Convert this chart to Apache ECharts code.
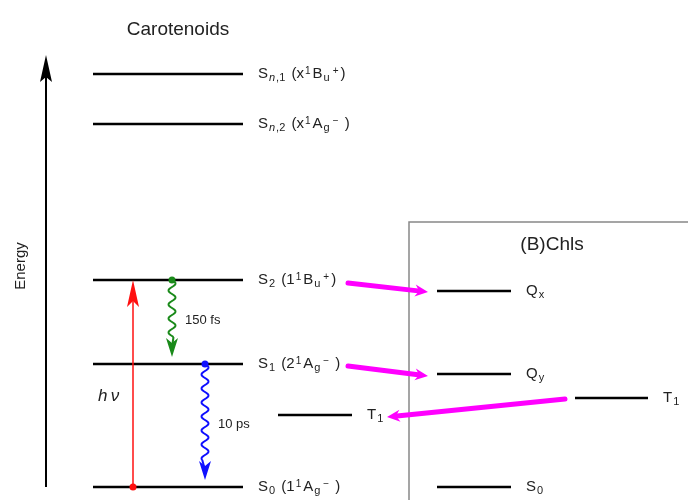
<!DOCTYPE html>
<html><head><meta charset="utf-8">
<script src="https://cdn.jsdelivr.net/npm/echarts@6/dist/echarts.min.js"></script>
<style>html,body{margin:0;padding:0;background:#fff}#c{width:688px;height:500px}</style>
</head><body><div id="c"></div>
<script>
// Energy-level data (x in layout units, energy in arbitrary units)
const levelNames = ['Sn1','Sn2','S2','S1','T1c','S0c','Qx','Qy','T1b','S0b'];
const levelX1    = [93, 93, 93, 93, 278, 93, 437, 437, 575, 437];
const levelX2    = [243,243,243,243,352,243,511, 511, 648, 511];
const levelE     = [426,376,220,136, 85, 13, 209, 126, 102, 13];
const levelLabels = [
  'S{subi|n}{sub|,1} (x{sup|1}B{sub|u}{sup|+})',
  'S{subi|n}{sub|,2} (x{sup|1}A{sub|g}{sup|\u2212} )',
  'S{sub|2} (1{sup|1}B{sub|u}{sup|+})',
  'S{sub|1} (2{sup|1}A{sub|g}{sup|\u2212} )',
  'T{sub|1}',
  'S{sub|0} (1{sup|1}A{sub|g}{sup|\u2212} )',
  'Q{sub|x}',
  'Q{sub|y}',
  'T{sub|1}',
  'S{sub|0}'
];
// Transitions
const excitation = {from: 'S0c', to: 'S2', x: 133, label: 'h\u2009\u03bd'};
const relax = [
  {from: 'S2', to: 'S1', x: 172, label: '150 fs', color: '#1a8a1a'},
  {from: 'S1', to: 'S0c', x: 205, label: '10 ps', color: '#1010ff'}
];
// Energy transfer (magenta)
const transferFromX = [348, 348, 565];
const transferFromE = [217, 134, 101];
const transferToX   = [428, 428, 387];
const transferToE   = [208, 124, 83];

const E = n => levelE[levelNames.indexOf(n)];
const chart = echarts.init(document.getElementById('c'));
const FONT = 'Liberation Sans, Arial, sans-serif';
const rich = {
  sub: {fontSize: 11, verticalAlign: 'bottom', lineHeight: 11, fontFamily: FONT, color:'#222', padding:[0,2,-2,1]},
  subi: {fontSize: 11, fontStyle:'italic', verticalAlign: 'bottom', lineHeight: 11, fontFamily: FONT, color:'#222', padding:[0,0,-2,1]},
  sup: {fontSize: 10, verticalAlign: 'top', lineHeight: 10, fontFamily: FONT, color:'#222', padding:[0,2,0,1]}
};

const levelData = levelNames.map((n,i)=>[levelX1[i], levelX2[i], levelE[i], i]);

chart.setOption({
  animation: false,
  grid: {left:0, right:0, top:0, bottom:0},
  xAxis: {type:'value', min:0, max:688, show:false},
  yAxis: {type:'value', min:0, max:500, show:false},
  title: [
    {text:'Carotenoids', left:173, top:15, textAlign:'center',
     textStyle:{fontFamily:FONT, fontSize:19, fontWeight:'normal', color:'#222'}},
    {text:'(B)Chls', left:547, top:230, textAlign:'center',
     textStyle:{fontFamily:FONT, fontSize:19, fontWeight:'normal', color:'#222'}}
  ],
  series: [
    { // Chls box
      type:'custom', silent:true, z:1,
      data:[[409, 278, 700, -10]],
      renderItem:(p, api)=>{
        const a = api.coord([api.value(0), api.value(1)]);
        const b = api.coord([api.value(2), api.value(3)]);
        return {type:'rect', shape:{x:a[0], y:a[1], width:b[0]-a[0], height:b[1]-a[1]},
          style:{fill:'none', stroke:'#888', lineWidth:1.5}};
      }
    },
    { // Energy axis
      type:'custom', silent:true, z:2,
      data:[[46, 13, 445]],
      renderItem:(p, api)=>{
        const a = api.coord([api.value(0), api.value(1)]);
        const b = api.coord([api.value(0), api.value(2)]);
        return {type:'group', children:[
          {type:'line', shape:{x1:a[0], y1:a[1], x2:b[0], y2:b[1]+18}, style:{stroke:'#000', lineWidth:2}},
          {type:'polygon', shape:{points:[[b[0],b[1]],[b[0]-6,b[1]+27],[b[0],b[1]+22],[b[0]+6,b[1]+27]]}, style:{fill:'#000'}},
          {type:'text', x:21, y:(a[1]+b[1])/2-5, rotation:Math.PI/2,
            style:{text:'Energy', fontFamily:FONT, fontSize:15, fill:'#222', align:'center', verticalAlign:'middle'}}
        ]};
      }
    },
    { // levels
      type:'custom', silent:true, z:3,
      data: levelData,
      renderItem:(p, api)=>{
        const a = api.coord([api.value(0), api.value(2)]);
        const b = api.coord([api.value(1), api.value(2)]);
        const i = api.value(3);
        return {type:'group', children:[
          {type:'line', shape:{x1:a[0], y1:a[1], x2:b[0], y2:b[1]}, style:{stroke:'#000', lineWidth:2.5}},
          {type:'text', x:b[0]+15, y:b[1], style:{text:levelLabels[i], rich:rich,
            fontFamily:FONT, fontSize:15, fill:'#222', verticalAlign:'middle', align:'left'}}
        ]};
      }
    },
    { // excitation
      type:'custom', silent:true, z:4,
      data:[[excitation.x, E(excitation.from), E(excitation.to)]],
      renderItem:(p, api)=>{
        const a = api.coord([api.value(0), api.value(1)]);
        const b = api.coord([api.value(0), api.value(2)]);
        return {type:'group', children:[
          {type:'line', shape:{x1:a[0], y1:a[1], x2:b[0], y2:b[1]+18}, style:{stroke:'#ff1010', lineWidth:1.5}},
          {type:'polygon', shape:{points:[[b[0],b[1]],[b[0]-6,b[1]+27],[b[0],b[1]+21],[b[0]+6,b[1]+27]]}, style:{fill:'#ff1010'}},
          {type:'circle', shape:{cx:a[0], cy:a[1], r:3.5}, style:{fill:'#ff1010'}},
          {type:'text', x:a[0]-35, y:(a[1]+b[1])/2+13, style:{text:excitation.label, fontFamily:FONT, fontStyle:'italic', fontSize:17, fill:'#222', align:'left', verticalAlign:'middle'}}
        ]};
      }
    },
    { // wavy relaxations
      type:'custom', silent:true, z:4,
      data: relax.map((r,i)=>[r.x, E(r.from), E(r.to), i]),
      renderItem:(p, api)=>{
        const a = api.coord([api.value(0), api.value(1)]);
        const b = api.coord([api.value(0), api.value(2)]);
        const r = relax[api.value(3)];
        const tip = b[1] - 7;
        const waveEnd = tip - 20;
        const pts = [];
        const amp = 3.5, period = 14;
        for (let y = a[1]; y <= waveEnd; y += 1) {
          pts.push([a[0] + amp*Math.sin((y-a[1])/period*2*Math.PI), y]);
        }
        return {type:'group', children:[
          {type:'polyline', shape:{points:pts}, style:{stroke:r.color, lineWidth:2, fill:'none'}},
          {type:'line', shape:{x1:pts[pts.length-1][0], y1:waveEnd, x2:a[0], y2:tip-10}, style:{stroke:r.color, lineWidth:2}},
          {type:'polygon', shape:{points:[[a[0],tip],[a[0]-6,tip-19],[a[0],tip-14],[a[0]+6,tip-19]]}, style:{fill:r.color}},
          {type:'circle', shape:{cx:a[0], cy:a[1], r:3.5}, style:{fill:r.color}},
          {type:'text', x:a[0]+13, y:(a[1]+tip)/2 + 2, style:{text:r.label, fontFamily:FONT, fontSize:13, fill:'#222', align:'left', verticalAlign:'middle'}}
        ]};
      }
    },
    { // magenta transfer arrows
      type:'custom', silent:true, z:5,
      data: transferFromX.map((x,i)=>[x, transferFromE[i], transferToX[i], transferToE[i]]),
      renderItem:(p, api)=>{
        const a = api.coord([api.value(0), api.value(1)]);
        const b = api.coord([api.value(2), api.value(3)]);
        const dx = b[0]-a[0], dy = b[1]-a[1], L = Math.hypot(dx,dy);
        const ux = dx/L, uy = dy/L, nx = -uy, ny = ux;
        const hl = 12, hw = 6;
        const base = [b[0]-ux*hl, b[1]-uy*hl];
        return {type:'group', children:[
          {type:'line', shape:{x1:a[0], y1:a[1], x2:base[0]+ux*2, y2:base[1]+uy*2}, style:{stroke:'#ff00ff', lineWidth:5, lineCap:'round'}},
          {type:'polygon', shape:{points:[[b[0],b[1]],[base[0]+nx*hw - ux*1, base[1]+ny*hw - uy*1],[base[0]+ux*3, base[1]+uy*3],[base[0]-nx*hw - ux*1, base[1]-ny*hw - uy*1]]}, style:{fill:'#ff00ff'}}
        ]};
      }
    }
  ]
});
</script></body></html>
